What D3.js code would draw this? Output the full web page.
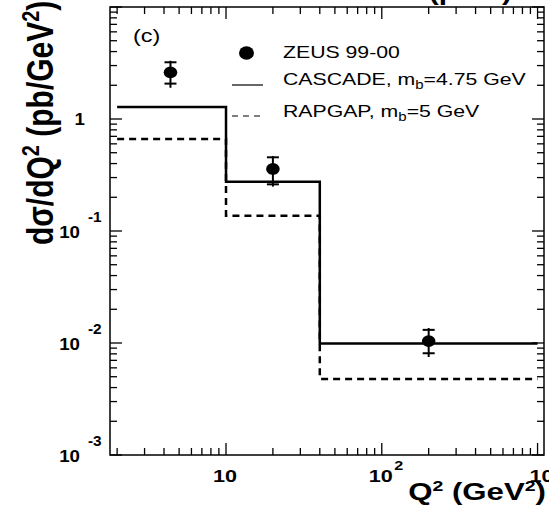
<!DOCTYPE html>
<html>
<head>
<meta charset="utf-8">
<script src="https://cdn.jsdelivr.net/npm/d3@7"></script>
<style>
  body { margin: 0; background: #fff; }
  text { font-family: "Liberation Sans", Arial, Helvetica, sans-serif; fill: #000; }
</style>
</head>
<body>
<div class="chart-container"></div>
<script>
//! DATA
const binEdges = [2, 10, 40, 1000];
const cascade = [1.28, 0.275, 0.0099];
const rapgap = [0.663, 0.137, 0.00477];

const q2Points = [4.4, 20, 200];
const zeusValues = [2.61, 0.358, 0.0104];
const statUp = [3.21, 0.455, 0.0131];
const statDown = [2.07, 0.261, 0.0081];
const totalUp = [3.31, 0.467, 0.0136];
const totalDown = [1.90, 0.249, 0.0075];

const xTickLabels = [[10, '10', ''], [100, '10', '2'], [1000, '10', '3']];
const yTickLabels = [[1, '1', ''], [0.1, '10', '-1'], [0.01, '10', '-2'], [0.001, '10', '-3']];

const legendLabels = ['ZEUS 99-00', 'CASCADE, m', 'RAPGAP, m'];

//! CONSTS
const WIDTH = 549;
const HEIGHT = 530;
const LEFT = 110, RIGHT = 544, TOP = 7, BOTTOM = 455;
const SX = 1.25; // the picture is stretched sideways

//! SVG
const svg = d3.select('.chart-container')
  .append('svg')
  .attr('width', WIDTH)
  .attr('height', HEIGHT);

svg.append('rect').attr('width', WIDTH).attr('height', HEIGHT).attr('fill', '#fff');

//! SCALES
const x = d3.scaleLog().domain([1.8, 1100]).range([LEFT, RIGHT]);
const y = d3.scaleLog().domain([1e-3, 10]).range([BOTTOM, TOP]);

const isMajor = v => Math.abs(Math.log10(v) - Math.round(Math.log10(v))) < 1e-6;

// frame
svg.append('rect')
  .attr('x', LEFT).attr('y', TOP)
  .attr('width', RIGHT - LEFT).attr('height', BOTTOM - TOP)
  .attr('fill', 'none').attr('stroke', '#000').attr('stroke-width', 1.5);

// ticks on all four sides, pointing in
const ticks = svg.append('g').attr('stroke', '#000').attr('stroke-width', 1.3);
x.ticks().forEach(v => {
  const len = isMajor(v) ? 12 : 7;
  ticks.append('line').attr('x1', x(v)).attr('x2', x(v)).attr('y1', BOTTOM).attr('y2', BOTTOM - len);
  ticks.append('line').attr('x1', x(v)).attr('x2', x(v)).attr('y1', TOP).attr('y2', TOP + len);
});
y.ticks().forEach(v => {
  const len = isMajor(v) ? 12 : 7;
  ticks.append('line').attr('x1', LEFT).attr('x2', LEFT + len).attr('y1', y(v)).attr('y2', y(v));
  ticks.append('line').attr('x1', RIGHT).attr('x2', RIGHT - len).attr('y1', y(v)).attr('y2', y(v));
});

// tick labels
xTickLabels.forEach(([v, base, exp], i) => {
  // last label sits a bit to the right of its tick, as in the original
  const cx = x(v) - 1 + (i === xTickLabels.length - 1 ? 5 : 0);
  const g = svg.append('g').attr('transform', `translate(${cx},482) scale(1.35,1)`);
  g.append('text').attr('text-anchor', 'middle').attr('font-weight', 'bold')
    .attr('font-size', 16).text(base);
  if (exp) g.append('text').attr('x', 10).attr('y', -12).attr('font-weight', 'bold')
    .attr('font-size', 12).text(exp);
});
yTickLabels.forEach(([v, base, exp]) => {
  const ty = y(v);
  if (!exp) {
    svg.append('text').attr('transform', `translate(85,${ty + 6}) scale(1.1,1)`)
      .attr('text-anchor', 'end').attr('font-weight', 'bold').attr('font-size', 17).text(base);
    return;
  }
  svg.append('text').attr('transform', `translate(80,${ty + 6.5}) scale(1.1,1)`)
    .attr('text-anchor', 'end').attr('font-weight', 'bold').attr('font-size', 17).text(base);
  svg.append('text').attr('transform', `translate(88,${ty - 9.5}) scale(1.1,1)`)
    .attr('font-weight', 'bold').attr('font-size', 14).text(exp);
});

//! HISTOGRAMS
const step = d3.line()
  .x(d => x(d[0]))
  .y(d => y(d[1]))
  .curve(d3.curveStepAfter);

const toSteps = vals => binEdges.map((e, i) => [e, vals[Math.min(i, vals.length - 1)]]);

svg.append('path')
  .datum(toSteps(rapgap))
  .attr('d', step)
  .attr('fill', 'none').attr('stroke', '#000').attr('stroke-width', 2.5)
  .attr('stroke-dasharray', '7,5');

svg.append('path')
  .datum(toSteps(cascade))
  .attr('d', step)
  .attr('fill', 'none').attr('stroke', '#000').attr('stroke-width', 2.5);

//! DATA POINTS
const pts = svg.append('g');
q2Points.forEach((q, i) => {
  const cx = x(q);
  pts.append('line').attr('x1', cx).attr('x2', cx)
    .attr('y1', y(totalDown[i])).attr('y2', y(totalUp[i]))
    .attr('stroke', '#000').attr('stroke-width', 2);
  [statUp[i], statDown[i]].forEach(v => {
    pts.append('line').attr('x1', cx - 6).attr('x2', cx + 6)
      .attr('y1', y(v)).attr('y2', y(v))
      .attr('stroke', '#000').attr('stroke-width', 2);
  });
  pts.append('ellipse').attr('cx', cx).attr('cy', y(zeusValues[i]))
    .attr('rx', 6.8).attr('ry', 5.9).attr('fill', '#000');
});

//! LEGEND
const legend = svg.append('g');
legend.append('ellipse').attr('cx', 246.5).attr('cy', 53).attr('rx', 7.5).attr('ry', 6.7).attr('fill', '#000');
legend.append('line').attr('x1', 232).attr('x2', 263).attr('y1', 85).attr('y2', 85)
  .attr('stroke', '#000').attr('stroke-width', 1.2);
legend.append('line').attr('x1', 232).attr('x2', 263).attr('y1', 116).attr('y2', 116)
  .attr('stroke', '#000').attr('stroke-width', 1.2).attr('stroke-dasharray', '6,5');

const legText = (ty, main, sub, rest) => {
  const t = legend.append('text').attr('transform', `translate(283,${ty}) scale(${SX},1)`)
    .attr('font-size', 17).text(main);
  if (sub) {
    t.append('tspan').attr('font-size', 12).attr('dy', 4).text(sub);
    t.append('tspan').attr('dy', -4).text(rest);
  }
};
legText(58, legendLabels[0]);
legText(85, legendLabels[1], 'b', '=4.75 GeV');
legText(117, legendLabels[2], 'b', '=5 GeV');

svg.append('text').attr('transform', `translate(133,42) scale(1.3,1)`)
  .attr('font-size', 18).text('(c)');

//! TITLES
const xt = svg.append('text').attr('transform', `translate(546,500) scale(1.3,1)`)
  .attr('text-anchor', 'end').attr('font-weight', 'bold').attr('font-size', 24);
xt.append('tspan').text('Q');
xt.append('tspan').attr('font-size', 15).attr('dy', -9).text('2');
xt.append('tspan').attr('dy', 9).text(' (GeV');
xt.append('tspan').attr('font-size', 15).attr('dy', -9).text('2');
xt.append('tspan').attr('dy', 9).text(')');

const yt = svg.append('text').attr('transform', `translate(53,245) rotate(-90) scale(1,1.2)`)
  .attr('font-weight', 'bold').attr('font-size', 30);
yt.append('tspan').text('dσ/dQ');
yt.append('tspan').attr('font-size', 20).attr('dy', -12).text('2');
yt.append('tspan').attr('dy', 12).text(' (pb/GeV');
yt.append('tspan').attr('font-size', 20).attr('dy', -12).text('2');
yt.append('tspan').attr('dy', 12).text(')');

// title cut off at the top edge
svg.append('text').attr('transform', `translate(512,0) scale(${SX},1)`)
  .attr('text-anchor', 'end').attr('font-weight', 'bold').attr('font-size', 24).text('ZEUS (prel.)');
</script>
</body>
</html>
